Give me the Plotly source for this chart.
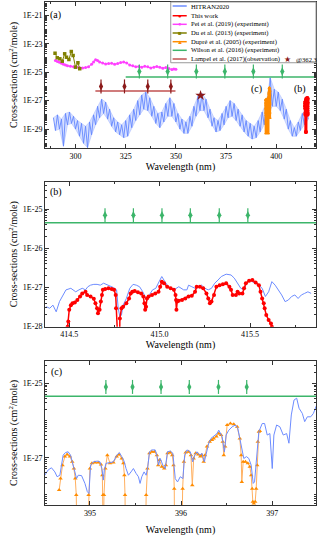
import numpy as np
import plotly.graph_objects as go
from plotly.subplots import make_subplots

# ------------------------------------------------------------------
# data (y values kept as log10 of the cross-section)
# ------------------------------------------------------------------
# panel (a): HITRAN2020 envelope, 1 nm steps, alternating upper / lower edge
hitran_a_wl = list(range(289, 417))
hitran_a_log = [
    -28.2, -29.1, -28.0, -29.0, -28.3, -30.2, -27.9, -28.7, -27.8, -28.6,
    -28.1, -29.0, -28.4, -29.5, -28.6, -30.0, -28.8, -30.3, -28.5, -29.4,
    -28.0, -28.7, -27.4, -28.2, -26.9, -27.9, -27.1, -28.3, -27.6, -28.8,
    -28.2, -29.2, -28.5, -29.4, -28.7, -29.6, -28.4, -29.5, -28.0, -28.9,
    -27.6, -28.4, -27.0, -28.0, -26.6, -27.6, -26.4, -27.7, -26.8, -28.1,
    -27.4, -28.6, -27.9, -28.9, -27.8, -28.5, -27.2, -28.1, -26.8, -28.1,
    -27.2, -28.5, -27.9, -29.0, -28.3, -29.3, -28.5, -29.3, -28.1, -28.8,
    -27.4, -28.1, -26.7, -27.7, -26.5, -27.7, -26.9, -28.2, -27.6, -28.8,
    -28.2, -29.2, -28.4, -29.1, -27.9, -28.7, -27.4, -28.2, -27.0, -28.1,
    -27.2, -28.4, -27.6, -28.8, -28.0, -29.2, -28.4, -29.5, -28.6, -29.7,
    -28.8, -29.6, -28.4, -29.2, -27.8, -28.7, -27.2, -28.0, -25.4, -27.4,
    -26.2, -27.4, -26.4, -27.7, -26.9, -28.3, -27.6, -29.0, -28.4, -29.5,
    -28.9, -29.5, -28.5, -29.1, -27.9, -28.7, -27.6, -28.3,
]

# Pei et al. (2019)
pei_wl = [290.0, 291.0, 292.0, 293.0, 294.0, 295.0, 296.0, 297.5, 299.0, 300.5,
          302.0, 303.5, 305.0, 306.5, 308.0, 309.0, 310.0, 311.0, 312.0, 313.5,
          315.0, 316.5, 318.0, 319.5, 321.0, 322.5, 324.0, 325.5, 327.0, 328.5,
          330.0, 331.5, 333.0, 334.5, 336.0, 337.5, 339.0, 340.5, 342.0, 343.5,
          345.0, 346.5, 348.0, 349.0, 350.0]
pei_log = [-24.18, -24.25, -24.30, -24.38, -24.45, -24.50, -24.55, -24.58, -24.62, -24.65,
           -24.68, -24.70, -24.68, -24.62, -24.45, -24.28, -24.12, -24.18, -24.28, -24.36,
           -24.42, -24.40, -24.38, -24.45, -24.40, -24.32, -24.28, -24.35, -24.50, -24.55,
           -24.62, -24.60, -24.65, -24.58, -24.62, -24.70, -24.65, -24.60, -24.66, -24.72,
           -24.68, -24.75, -24.82, -24.78, -24.80]

# Du et al. (2013)
du_wl = [289.8, 290.9, 292.2, 293.4, 294.6, 295.5, 296.7, 297.9, 298.8, 300.0, 301.2, 302.1]
du_log = [-23.67, -23.99, -24.06, -24.23, -23.71, -23.95, -24.11, -23.55, -23.83, -24.65, -24.34, -24.76]

# Wilson et al. (2016)
wilson_wl = [325.0, 420.0]
wilson_val = [4.5e-26, 4.5e-26]
wilson_arrow_a_wl = [331.8, 345.9, 360.2, 374.4, 388.6, 403.0]
wilson_arrow_b_wl = [414.698, 414.855, 415.013, 415.170, 415.330, 415.488]
wilson_arrow_c_wl = [395.175, 395.467, 395.780, 396.090, 396.410, 396.720]
wilson_arrow_a_val = 1.1e-25
wilson_arrow_b_val = 7.0e-26
wilson_arrow_c_val = 8.0e-26

# Lampel et al. (2017)
lampel_wl = [309.9, 349.8]
lampel_val = [4.7e-27, 4.7e-27]
lampel_arrow_wl = [312.7, 324.4, 336.0, 347.5]
lampel_arrow_val = 1.0e-26
lampel_star_wl = [362.3]
lampel_star_val = [2.3e-27]

# panel (b): HITRAN2020
hitran_b_wl = [414.373, 414.392, 414.410, 414.428, 414.446, 414.464, 414.482, 414.509, 414.536, 414.554,
               414.572, 414.590, 414.603, 414.618, 414.636, 414.654, 414.672, 414.690, 414.708, 414.726,
               414.744, 414.762, 414.771, 414.780, 414.789, 414.798, 414.816, 414.835, 414.853, 414.871,
               414.889, 414.907, 414.925, 414.934, 414.943, 414.961, 414.979, 414.997, 415.012, 415.024,
               415.042, 415.061, 415.079, 415.106, 415.133, 415.151, 415.160, 415.178, 415.196, 415.214,
               415.232, 415.250, 415.269, 415.287, 415.305, 415.323, 415.341, 415.368, 415.395, 415.413,
               415.431, 415.449, 415.467, 415.477, 415.495, 415.513, 415.531, 415.549, 415.567, 415.585,
               415.603, 415.621, 415.639, 415.657, 415.675, 415.694, 415.712, 415.730, 415.748, 415.766,
               415.784, 415.802, 415.820, 415.838]
hitran_b_log = [-27.49, -27.53, -27.45, -27.62, -27.36, -27.19, -27.06, -27.02, -27.11, -27.06,
                -27.02, -27.06, -26.98, -26.94, -26.92, -26.92, -26.94, -26.89, -26.92, -26.95,
                -27.00, -27.06, -27.53, -27.75, -27.70, -27.45, -27.28, -27.02, -26.92, -26.94,
                -26.98, -27.11, -27.28, -27.32, -27.19, -27.06, -27.02, -26.85, -26.72, -26.81,
                -26.94, -27.02, -27.06, -26.98, -27.06, -27.06, -26.94, -26.98, -27.02, -26.98,
                -26.94, -27.02, -27.06, -27.02, -26.89, -26.81, -26.72, -26.66, -26.68, -26.76,
                -26.89, -27.02, -27.06, -26.94, -26.81, -26.85, -26.89, -26.94, -27.02, -27.23,
                -27.11, -26.85, -26.94, -27.06, -27.19, -27.36, -27.32, -27.23, -27.19, -27.28,
                -27.19, -27.15, -27.11, -27.15]

# panel (b): This work
work_wl = [414.491, 414.495, 414.500, 414.509, 414.518, 414.531, 414.545, 414.560, 414.572, 414.590,
           414.599, 414.618, 414.636, 414.645, 414.654, 414.659, 414.668, 414.675, 414.681, 414.686,
           414.699, 414.717, 414.735, 414.748, 414.757, 414.759, 414.762, 414.777, 414.780, 414.789,
           414.798, 414.816, 414.831, 414.840, 414.849, 414.862, 414.880, 414.898, 414.910, 414.916,
           414.920, 414.925, 414.930, 414.939, 414.958, 414.976, 414.994, 415.003, 415.012, 415.024,
           415.042, 415.061, 415.079, 415.088, 415.091, 415.093, 415.097, 415.106, 415.124, 415.142,
           415.160, 415.178, 415.196, 415.205, 415.223, 415.241, 415.259, 415.269, 415.278, 415.287,
           415.301, 415.314, 415.332, 415.350, 415.368, 415.386, 415.395, 415.404, 415.422, 415.431,
           415.440, 415.458, 415.467, 415.477, 415.495, 415.513, 415.531, 415.549, 415.558, 415.567,
           415.576, 415.581, 415.590, 415.603, 415.616, 415.621]
work_log = [-28.00, -27.87, -27.57, -27.45, -27.40, -27.38, -27.32, -27.23, -27.15, -27.11,
            -27.19, -27.23, -27.29, -27.40, -27.53, -27.66, -27.57, -27.36, -27.19, -27.06,
            -27.04, -27.02, -27.04, -27.06, -27.19, -27.53, -29.20, -29.20, -27.79, -27.53,
            -27.49, -27.40, -27.28, -27.15, -27.11, -27.09, -27.12, -27.15, -27.23, -27.40,
            -27.57, -27.49, -27.28, -27.23, -27.19, -27.15, -27.11, -26.98, -26.85, -26.89,
            -26.98, -27.02, -27.06, -27.19, -27.32, -27.57, -27.36, -27.34, -27.32, -27.28,
            -27.23, -27.21, -27.11, -26.98, -26.98, -27.02, -27.15, -27.28, -27.40, -27.36,
            -27.19, -26.98, -26.94, -26.92, -26.89, -26.98, -27.06, -27.19, -27.19, -27.11,
            -27.15, -27.15, -27.02, -26.89, -26.83, -26.81, -26.87, -26.94, -27.11, -27.28,
            -27.40, -27.53, -27.70, -27.83, -27.92, -28.00]

# panel (c): HITRAN2020
hitran_c_wl = [394.505, 394.541, 394.578, 394.615, 394.640, 394.670, 394.688, 394.706, 394.732, 394.761,
               394.787, 394.809, 394.835, 394.853, 394.872, 394.908, 394.945, 394.971, 394.989, 395.007,
               395.037, 395.081, 395.110, 395.132, 395.147, 395.158, 395.176, 395.220, 395.257, 395.294,
               395.323, 395.349, 395.374, 395.396, 395.422, 395.451, 395.477, 395.506, 395.532, 395.550,
               395.569, 395.594, 395.617, 395.635, 395.653, 395.679, 395.716, 395.734, 395.752, 395.771,
               395.800, 395.826, 395.851, 395.881, 395.910, 395.936, 395.961, 395.991, 396.020, 396.039,
               396.064, 396.101, 396.127, 396.149, 396.174, 396.204, 396.229, 396.255, 396.277, 396.303,
               396.328, 396.358, 396.394, 396.413, 396.431, 396.450, 396.475, 396.494, 396.523, 396.560,
               396.596, 396.622, 396.644, 396.670, 396.688, 396.717, 396.743, 396.769, 396.791, 396.806,
               396.828, 396.853, 396.890, 396.916, 396.945, 396.974, 397.000, 397.018, 397.048, 397.084,
               397.121, 397.158, 397.183, 397.209, 397.239, 397.268, 397.294, 397.330, 397.356, 397.385,
               397.422, 397.451, 397.488]
hitran_c_log = [-27.47, -27.33, -27.27, -27.38, -27.51, -27.47, -27.20, -26.93, -26.86, -26.84,
                -26.93, -27.11, -27.38, -27.56, -27.47, -27.48, -27.69, -27.91, -27.96, -27.20,
                -27.11, -27.09, -27.11, -27.29, -27.60, -27.33, -27.15, -27.13, -27.11, -26.93,
                -26.86, -26.97, -27.09, -27.29, -27.47, -27.38, -27.29, -27.42, -27.51, -27.69,
                -27.51, -27.38, -27.47, -27.24, -26.84, -26.79, -26.79, -26.93, -27.20, -27.02,
                -27.20, -27.29, -26.84, -26.82, -26.88, -27.56, -27.65, -27.51, -27.56, -26.93,
                -26.79, -26.84, -27.11, -26.93, -26.84, -26.93, -26.88, -27.11, -26.84, -26.61,
                -26.48, -26.43, -26.35, -26.26, -26.35, -26.43, -26.84, -26.39, -26.26, -26.17,
                -26.12, -26.21, -26.48, -26.84, -27.02, -26.97, -27.02, -27.20, -27.69, -27.65,
                -27.02, -26.30, -26.08, -26.08, -26.39, -26.35, -27.29, -26.39, -26.12, -26.17,
                -26.39, -26.35, -26.61, -25.85, -25.45, -25.40, -25.67, -25.81, -26.03, -25.90,
                -25.90, -25.81, -25.58]

# panel (c): Dupre et al. (2005)
dupre_wl = [394.662, 394.677, 394.699, 394.725, 394.750, 394.780, 394.806, 394.824, 394.839, 394.850,
            394.857, 394.971, 394.985, 395.000, 395.022, 395.055, 395.092, 395.121, 395.136, 395.143,
            395.147, 395.154, 395.169, 395.191, 395.220, 395.257, 395.294, 395.319, 395.349, 395.367,
            395.378, 395.385, 395.389, 395.609, 395.617, 395.631, 395.653, 395.679, 395.708, 395.734,
            395.749, 395.763, 395.789, 395.815, 395.833, 395.851, 395.881, 395.903, 395.917, 395.925,
            395.928, 396.009, 396.017, 396.031, 396.050, 396.083, 396.108, 396.123, 396.138, 396.160,
            396.189, 396.211, 396.229, 396.248, 396.262, 396.284, 396.314, 396.339, 396.358, 396.387,
            396.413, 396.439, 396.457, 396.468, 396.483, 396.505, 396.541, 396.578, 396.615, 396.644,
            396.659, 396.666, 396.681, 396.706, 396.732, 396.754, 396.769, 396.780, 396.787, 396.798,
            396.813, 396.824, 396.835, 396.842, 396.853, 396.864]
dupre_log = [-27.87, -27.56, -27.20, -26.97, -26.91, -26.97, -27.11, -27.29, -27.56, -28.00,
             -29.30, -29.30, -28.00, -27.29, -27.15, -27.13, -27.13, -27.18, -27.47, -28.00,
             -29.30, -28.00, -27.29, -26.93, -27.15, -27.13, -26.97, -26.91, -27.02, -27.15,
             -27.47, -28.00, -29.30, -29.30, -28.00, -27.29, -26.88, -26.84, -26.84, -26.93,
             -27.20, -27.06, -27.24, -27.29, -27.20, -26.88, -26.86, -26.93, -27.20, -27.83,
             -29.30, -29.30, -27.83, -27.11, -26.86, -26.84, -26.93, -27.74, -27.02, -26.88,
             -26.91, -26.97, -26.93, -27.11, -26.93, -26.70, -26.57, -26.52, -26.48, -26.43,
             -26.35, -26.39, -26.57, -26.93, -26.70, -26.12, -26.08, -26.10, -26.17, -26.48,
             -26.93, -27.65, -27.11, -27.11, -27.15, -27.24, -27.47, -27.83, -28.18, -28.23,
             -28.18, -27.83, -27.20, -26.57, -26.30, -26.28]

# axis ticks
ytick_a = [1e-29, 1e-27, 1e-25, 1e-23, 1e-21]
ytext_a = ["1E-29", "1E-27", "1E-25", "1E-23", "1E-21"]
ytick_b = [1e-28, 1e-27, 1e-26, 1e-25]
ytext_b = ["1E-28", "1E-27", "1E-26", "1E-25"]
ytick_c = [1e-27, 1e-25]
ytext_c = ["1E-27", "1E-25"]

legend_names = ["HITRAN2020", "This work", "Pei et al. (2019) (experiment)",
                "Du et al. (2013) (experiment)", "Dupré et al. (2005) (experiment)",
                "Wilson et al. (2016) (experiment)", "Lampel et al. (2017)(observation)"]

# ------------------------------------------------------------------
C_HIT = "#6d8cff"
C_RED = "#ff0000"
C_PEI = "#ff40ff"
C_DU = "#808000"
C_ORG = "#ff8c00"
C_GRN = "#3cb56a"
C_LAM = "#c05050"
C_DRK = "#8b1a1a"
FONT = "Liberation Serif"

def pw(v):
    return 10 ** np.array(v)

fig = make_subplots(rows=3, cols=1)

# ---- panel (a)
# light band between upper and lower edges, then the noisy line itself
fig.add_trace(go.Scatter(x=hitran_a_wl[0::2], y=pw(hitran_a_log[0::2]), mode="lines",
                         line=dict(color="rgba(160,180,255,0.5)", width=1)), row=1, col=1)
fig.add_trace(go.Scatter(x=hitran_a_wl[1::2], y=pw(hitran_a_log[1::2]), mode="lines",
                         line=dict(color="rgba(160,180,255,0.5)", width=1),
                         fill="tonexty", fillcolor="rgba(140,165,255,0.35)"), row=1, col=1)
fig.add_trace(go.Scatter(x=hitran_a_wl, y=pw(hitran_a_log), mode="lines",
                         line=dict(color="rgba(100,135,255,0.9)", width=1)), row=1, col=1)
fig.add_trace(go.Scatter(x=pei_wl, y=pw(pei_log), mode="lines+markers",
                         line=dict(color=C_PEI, width=1),
                         marker=dict(color=C_PEI, size=3)), row=1, col=1)
fig.add_trace(go.Scatter(x=du_wl, y=pw(du_log), mode="lines+markers",
                         line=dict(color=C_DU, width=1),
                         marker=dict(color=C_DU, size=3.5, symbol="square")), row=1, col=1)
fig.add_trace(go.Scatter(x=dupre_wl, y=pw(dupre_log), mode="lines+markers",
                         line=dict(color=C_ORG, width=2.5),
                         marker=dict(color=C_ORG, size=3, symbol="triangle-up")), row=1, col=1)
fig.add_trace(go.Scatter(x=work_wl, y=pw(work_log), mode="lines+markers",
                         line=dict(color=C_RED, width=3),
                         marker=dict(color=C_RED, size=4)), row=1, col=1)
fig.add_trace(go.Scatter(x=wilson_wl, y=wilson_val, mode="lines",
                         line=dict(color=C_GRN, width=1.5)), row=1, col=1)
fig.add_trace(go.Scatter(x=lampel_wl, y=lampel_val, mode="lines",
                         line=dict(color=C_LAM, width=1.5)), row=1, col=1)
fig.add_trace(go.Scatter(x=lampel_star_wl, y=lampel_star_val, mode="markers",
                         marker=dict(color=C_DRK, size=8, symbol="star")), row=1, col=1)


def add_arrows(wl, val, color, row):
    yv = [val] * len(wl)
    fig.add_trace(go.Scatter(x=wl, y=yv, mode="markers",
                             marker=dict(symbol="line-ns", size=10,
                                         line=dict(color=color, width=1.2))), row=row, col=1)
    fig.add_trace(go.Scatter(x=wl, y=yv, mode="markers",
                             marker=dict(symbol="diamond-tall", size=6, color=color)), row=row, col=1)


add_arrows(wilson_arrow_a_wl, wilson_arrow_a_val, C_GRN, 1)
add_arrows(lampel_arrow_wl, lampel_arrow_val, C_DRK, 1)

# ---- panel (b)
fig.add_trace(go.Scatter(x=wilson_wl, y=wilson_val, mode="lines",
                         line=dict(color=C_GRN, width=1.5)), row=2, col=1)
fig.add_trace(go.Scatter(x=hitran_b_wl, y=pw(hitran_b_log), mode="lines",
                         line=dict(color=C_HIT, width=1)), row=2, col=1)
fig.add_trace(go.Scatter(x=work_wl, y=pw(work_log), mode="lines+markers",
                         line=dict(color=C_RED, width=1.5),
                         marker=dict(color=C_RED, size=4)), row=2, col=1)
add_arrows(wilson_arrow_b_wl, wilson_arrow_b_val, C_GRN, 2)

# ---- panel (c)
fig.add_trace(go.Scatter(x=wilson_wl, y=wilson_val, mode="lines",
                         line=dict(color=C_GRN, width=1.5)), row=3, col=1)
fig.add_trace(go.Scatter(x=dupre_wl, y=pw(dupre_log), mode="lines+markers",
                         line=dict(color="#ffb060", width=1),
                         marker=dict(color=C_ORG, size=4, symbol="triangle-up")), row=3, col=1)
fig.add_trace(go.Scatter(x=hitran_c_wl, y=pw(hitran_c_log), mode="lines",
                         line=dict(color=C_HIT, width=1)), row=3, col=1)
add_arrows(wilson_arrow_c_wl, wilson_arrow_c_val, C_GRN, 3)

# ---- axes
axis_common = dict(showline=True, linecolor="#333", linewidth=1, mirror="ticks",
                   ticks="inside", ticklen=4, tickcolor="#333", showgrid=False,
                   zeroline=False, tickfont=dict(family=FONT, size=8, color="black"))
xt = dict(text="Wavelength (nm)", font=dict(family=FONT, size=10, color="black"))
yt = dict(text="Cross-sections (cm<sup>2</sup>/mole)",
          font=dict(family=FONT, size=10, color="black"), standoff=3)

fig.update_xaxes(axis_common)
fig.update_yaxes(axis_common)

fig.update_xaxes(range=[284.8, 419.8], tick0=300, dtick=25,
                 minor=dict(ticks="inside", ticklen=2, dtick=12.5, tickcolor="#333"),
                 title=dict(xt, standoff=0), row=1, col=1)
fig.update_xaxes(range=[414.366, 415.865], tick0=414.5, dtick=0.5, tickformat=".1f",
                 minor=dict(ticks="inside", ticklen=2, dtick=0.25, tickcolor="#333"),
                 title=dict(xt, standoff=0), row=2, col=1)
fig.update_xaxes(range=[394.507, 397.48], tick0=395, dtick=1,
                 minor=dict(ticks="inside", ticklen=2, dtick=0.5, tickcolor="#333"),
                 title=dict(xt, standoff=9), row=3, col=1)

ymin = dict(ticks="inside", ticklen=2, dtick="D1", tickcolor="#333")
fig.update_yaxes(type="log", range=[-30.33, -20.07], tickmode="array",
                 tickvals=ytick_a, ticktext=ytext_a, minor=ymin, title=yt,
                 domain=[0.7097, 1.0], row=1, col=1)
fig.update_yaxes(type="log", range=[-28.0, -24.3], tickmode="array",
                 tickvals=ytick_b, ticktext=ytext_b, minor=ymin, title=yt,
                 domain=[0.3545, 0.6427], row=2, col=1)
fig.update_yaxes(type="log", range=[-28.27, -24.4], tickmode="array",
                 tickvals=ytick_c, ticktext=ytext_c, minor=ymin, title=yt,
                 domain=[0.0, 0.2863], row=3, col=1)

# ---- highlight boxes in (a)
shapes = [
    dict(type="rect", xref="x", yref="y", x0=391.6, x1=399.0, y0=-29.78, y1=-25.63,
         fillcolor="#d2d2d2", line=dict(width=0), layer="below"),
    dict(type="rect", xref="x", yref="y", x0=409.4, x1=415.8, y0=-29.78, y1=-25.63,
         fillcolor="#d2d2d2", line=dict(width=0), layer="below"),
    # legend frame
    dict(type="rect", xref="x domain", yref="y domain", x0=0.464, x1=1.0, y0=0.584, y1=1.0,
         fillcolor="white", line=dict(color="#999", width=1)),
]

lab = dict(showarrow=False, xanchor="center", yanchor="middle",
           font=dict(family=FONT, size=10, color="black"))
annotations = [
    dict(lab, text="(a)", xref="x domain", yref="y domain", x=0.04, y=0.911),
    dict(lab, text="(b)", xref="x2 domain", yref="y2 domain", x=0.039, y=0.931),
    dict(lab, text="(c)", xref="x3 domain", yref="y3 domain", x=0.044, y=0.926),
    dict(lab, text="(c)", xref="x", yref="y", x=390.2, y=-26.15),
    dict(lab, text="(b)", xref="x", yref="y", x=411.7, y=-26.15),
]

# hand-drawn legend (inside panel a)
leg_colors = [C_HIT, C_RED, C_PEI, C_DU, C_ORG, C_GRN, C_LAM]
leg_marks = ["", "●", "●", "■", "▲", "", ""]
leg_y = [0.9726, 0.906, 0.8472, 0.7877, 0.7281, 0.6692, 0.6096]
for name, col, mk, yy in zip(legend_names, leg_colors, leg_marks, leg_y):
    shapes.append(dict(type="line", xref="x domain", yref="y domain",
                       x0=0.471, x1=0.523, y0=yy, y1=yy, line=dict(color=col, width=1.5)))
    if mk:
        annotations.append(dict(text=mk, xref="x domain", yref="y domain", x=0.497, y=yy,
                                showarrow=False, xanchor="center", yanchor="middle",
                                font=dict(size=6, color=col)))
    annotations.append(dict(text=name, xref="x domain", yref="y domain", x=0.5325, y=yy,
                            xanchor="left", yanchor="middle", showarrow=False,
                            font=dict(family=FONT, size=6.6, color="black")))
annotations.append(dict(text="★", xref="x domain", yref="y domain", x=0.893, y=leg_y[-1],
                        showarrow=False, xanchor="center", yanchor="middle",
                        font=dict(size=8, color=C_DRK)))
annotations.append(dict(text="@362.3", xref="x domain", yref="y domain", x=0.92, y=leg_y[-1],
                        xanchor="left", yanchor="middle", showarrow=False,
                        font=dict(family=FONT, size=6.6, color="black")))

fig.update_layout(
    width=320, height=539,
    margin=dict(l=45, r=4, t=2, b=34),
    showlegend=False,
    plot_bgcolor="white", paper_bgcolor="white",
    shapes=shapes, annotations=annotations,
    font=dict(family=FONT, color="black"),
)

fig.write_html("out.html", config={"displayModeBar": False},
               post_script="document.body.style.margin='0';")
